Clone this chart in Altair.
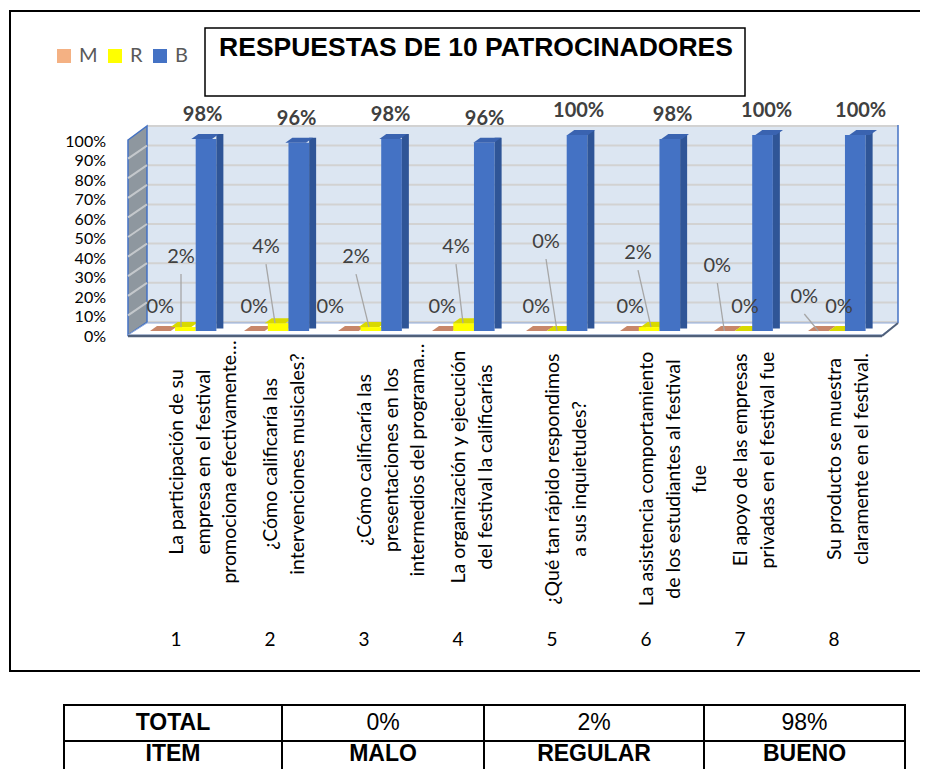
import altair as alt
import pandas as pd

# ---------------- data ----------------
CATS = [1, 2, 3, 4, 5, 6, 7, 8]
CAT_LABELS = [
    ["La participación de su", "empresa en el festival", "promociona efectivamente…"],
    ["¿Cómo calificaría las", "intervenciones musicales?"],
    ["¿Cómo calificaría las", "presentaciones en los", "intermedios del programa…"],
    ["La organización y ejecución", "del festival la calificarías"],
    ["¿Qué tan rápido respondimos", "a sus inquietudes?"],
    ["La asistencia comportamiento", "de los estudiantes al festival", "fue"],
    ["El apoyo de las empresas", "privadas en el festival fue"],
    ["Su producto se muestra", "claramente en el festival."],
]
SERIES = ["M", "R", "B"]
M_VALS = [0.00, 0.00, 0.00, 0.00, 0.00, 0.00, 0.00, 0.00]
R_VALS = [0.02, 0.04, 0.02, 0.04, 0.00, 0.02, 0.00, 0.00]
B_VALS = [0.98, 0.96, 0.98, 0.96, 1.00, 0.98, 1.00, 1.00]
Y_TICKS = [0.0, 0.1, 0.2, 0.3, 0.4, 0.5, 0.6, 0.7, 0.8, 0.9, 1.0]
TITLE = "RESPUESTAS DE 10 PATROCINADORES"
TABLE_ROW1 = ["TOTAL", "0%", "2%", "98%"]
TABLE_ROW2 = ["ITEM", "MALO", "REGULAR", "BUENO"]

# ---------------- layout (page pixels) ----------------
O = 8
def P(v):
    return v - O

W, H = 912, 761
STEP = 94.0
SUB = 62.0 / 3.0
DX3, DY3 = 7.0, 5.0
XS = alt.Scale(domain=[0.5, 8.5], range=[P(134), P(134) + 8 * STEP], nice=False, zero=False)
YB = alt.Scale(domain=[0, 1], range=[P(331), P(135)], nice=False, zero=False)
YBACK = alt.Scale(domain=[0, 1], range=[P(322), P(126)], nice=False, zero=False)
YAX = alt.Scale(domain=[0, 1], range=[P(337), P(141.5)], nice=False, zero=False)

SHIFT = {"M": -SUB, "R": 0.0, "B": SUB}
FRONT = {"M": "#F4B183", "R": "#FFFF00", "B": "#4472C4"}
SIDE = {"M": "#C38E69", "R": "#CCCC00", "B": "#2F5597"}
TOPC = {"M": "#C8876A", "R": "#D9D900", "B": "#3A63B0"}

M_LAB_DX = [0, 0, -18, 0, 0, 0, -7, -14]
M_LAB_DY = [-24, -24, -24, -24, -24, -24, -65, -34]
R_LAB_DX = [0, -9, -13, -7, -11, -13, 0, 0]
R_LAB_DY = [-70, -76, -70, -76, -89, -74, -24, -24]
R_LEADER = [True, True, True, True, True, True, False, False]
M_LEADER = [False, False, False, False, False, False, True, True]
LABEL_MID_Y = [462, 464, 460, 467, 479, 479, 460, 459]
TABLE_EDGES = [64, 282, 484, 704, 905]
TABLE_ROWS = [705, 741, 790]
TABLE_TEXT_Y = [723, 754]

LBL_FONT = "Lato"
dummy = pd.DataFrame({"k": [0]})


def base():
    return alt.Chart(dummy)


def poly_path(points, cx, cy, half):
    parts = []
    for i, (px_, py_) in enumerate(points):
        parts.append(("M" if i == 0 else "L") + f" {(px_ - cx) / half:.4f} {(py_ - cy) / half:.4f}")
    return " ".join(parts) + " Z"


layers = []

# outer frame
layers.append(base().mark_rect(fill="white", stroke="black", strokeWidth=2).encode(
    x=alt.value(P(10)), x2=alt.value(P(960)), y=alt.value(P(11)), y2=alt.value(P(671))))

# title box + title
layers.append(base().mark_rect(fill="white", stroke="black", strokeWidth=1.5).encode(
    x=alt.value(P(205)), x2=alt.value(P(745)), y=alt.value(P(28)), y2=alt.value(P(96))))
layers.append(alt.Chart(pd.DataFrame({"t": [TITLE]})).mark_text(
    font="Liberation Sans", fontWeight="bold", fontSize=26.5, color="black",
    align="center", baseline="middle").encode(
    text="t:N", x=alt.value(P(476)), y=alt.value(P(48))))

# back wall
layers.append(base().mark_rect(fill="#DCE6F2").encode(
    x=alt.value(P(147)), x2=alt.value(P(898)), y=alt.value(P(126)), y2=alt.value(P(322))))
grid = pd.DataFrame({"v": Y_TICKS})
layers.append(alt.Chart(grid).mark_rule(color="#D2D2D2", strokeWidth=2).encode(
    x=alt.value(P(147)), x2=alt.value(P(898)), y=alt.Y("v:Q", scale=YBACK, axis=None)))
layers.append(base().mark_rule(color="#4472C4", strokeWidth=1.5).encode(
    x=alt.value(P(898)), y=alt.value(P(125)), y2=alt.value(P(323))))

# side wall
sw_pts = [(128, 140), (147, 126), (147, 322), (128, 335)]
layers.append(base().mark_point(shape=poly_path(sw_pts, 137.5, 230.5, 105), size=210 ** 2,
                                filled=True, opacity=1, color="#8E979F",
                                stroke="#4472C4", strokeWidth=1.5).encode(
    x=alt.value(P(137.5)), y=alt.value(P(230.5))))
layers.append(alt.Chart(pd.DataFrame({"v": Y_TICKS[1:-1]})).mark_rule(
    color="#C4C8CC", strokeWidth=2, y2Offset=13).encode(
    x=alt.value(P(147)), x2=alt.value(P(128)),
    y=alt.Y("v:Q", scale=YBACK, axis=None), y2=alt.Y2("v:Q")))

# floor
fl_pts = [(128, 335), (147, 323), (898, 323), (882, 335)]
layers.append(base().mark_point(shape=poly_path(fl_pts, 513, 329, 385), size=770 ** 2,
                                filled=True, opacity=1, color="white",
                                stroke="#8EA9DB", strokeWidth=1).encode(
    x=alt.value(P(513)), y=alt.value(P(329))))
layers.append(base().mark_rule(color="#50607A", strokeWidth=2.5).encode(
    x=alt.value(P(128)), x2=alt.value(P(882)), y=alt.value(P(336))))
layers.append(base().mark_rule(color="#50607A", strokeWidth=2).encode(
    x=alt.value(P(882)), x2=alt.value(P(898)), y=alt.value(P(336)), y2=alt.value(P(323))))

# bars (3D look: front, side, top)
CS = alt.Scale(domain=SERIES, range=[FRONT[s] for s in SERIES])
LEG = alt.Legend(orient="none", legendX=P(54), legendY=P(46), direction="horizontal",
                 title=None, symbolType="square", symbolSize=196, symbolStrokeWidth=0,
                 symbolOpacity=1, labelFont=LBL_FONT, labelFontSize=20, labelColor="#595959",
                 labelOffset=5, columnPadding=7, padding=0)
S = SUB + DX3
half = S / 2
top_pts = [(-SUB / 2 - DX3 / 2, DY3 / 2), (SUB / 2 - DX3 / 2, DY3 / 2),
           (SUB / 2 + DX3 / 2, -DY3 / 2), (-SUB / 2 + DX3 / 2, -DY3 / 2)]
TOP_SHAPE = poly_path(top_pts, 0, 0, half)

for s, vals in zip(SERIES, [M_VALS, R_VALS, B_VALS]):
    df = pd.DataFrame({"cat": CATS, "value": vals, "serie": s})
    X = alt.X("cat:Q", scale=XS, axis=None)
    Y = alt.Y("value:Q", scale=YB, axis=None)
    layers.append(alt.Chart(df).mark_bar(width=SUB, xOffset=SHIFT[s]).encode(
        x=X, y=Y, y2=alt.datum(0),
        color=alt.Color("serie:N", scale=CS, legend=LEG)))
    layers.append(alt.Chart(df).mark_bar(width=DX3, xOffset=SHIFT[s] + SUB / 2 + DX3 / 2,
                                         yOffset=-DY3, y2Offset=-2.5, color=SIDE[s]).encode(
        x=X, y=Y, y2=alt.datum(0)))
    layers.append(alt.Chart(df).mark_point(shape=TOP_SHAPE, size=S * S, filled=True, opacity=1,
                                           color=TOPC[s], strokeWidth=0,
                                           xOffset=SHIFT[s] + DX3 / 2, yOffset=-DY3 / 2).encode(
        x=X, y=Y))

# value labels
lab_font = dict(font=LBL_FONT, fontSize=20, color="#404040", align="center", baseline="middle")
dfB = pd.DataFrame({"cat": CATS, "value": B_VALS, "lab": [f"{round(v * 100)}%" for v in B_VALS]})
layers.append(alt.Chart(dfB).mark_text(fontWeight="bold", xOffset=SUB + 1, yOffset=-24,
                                       **lab_font).encode(
    x=alt.X("cat:Q", scale=XS, axis=None), y=alt.Y("value:Q", scale=YB, axis=None), text="lab:N"))

for s, vals, ddx, ddy, lead in [("M", M_VALS, M_LAB_DX, M_LAB_DY, M_LEADER),
                                 ("R", R_VALS, R_LAB_DX, R_LAB_DY, R_LEADER)]:
    for i, c in enumerate(CATS):
        d = pd.DataFrame({"cat": [c], "value": [vals[i]], "lab": [f"{round(vals[i] * 100)}%"]})
        X = alt.X("cat:Q", scale=XS, axis=None)
        Y = alt.Y("value:Q", scale=YB, axis=None)
        if lead[i]:
            layers.append(alt.Chart(d).mark_rule(
                color="#A6A6A6", strokeWidth=1.3,
                xOffset=SHIFT[s] + ddx[i], yOffset=ddy[i] + 17,
                x2Offset=SHIFT[s], y2Offset=0).encode(
                x=X, x2=alt.X2("cat:Q"), y=Y, y2=alt.Y2("value:Q")))
        layers.append(alt.Chart(d).mark_text(xOffset=SHIFT[s] + ddx[i], yOffset=ddy[i],
                                             **lab_font).encode(x=X, y=Y, text="lab:N"))

# y axis labels
dfY = pd.DataFrame({"v": Y_TICKS, "lab": [f"{round(v * 100)}%" for v in Y_TICKS]})
layers.append(alt.Chart(dfY).mark_text(font=LBL_FONT, fontSize=16, color="black",
                                       align="right", baseline="middle").encode(
    x=alt.value(P(106)), y=alt.Y("v:Q", scale=YAX, axis=None), text="lab:N"))

# category numbers
dfC = pd.DataFrame({"cat": CATS, "lab": [str(c) for c in CATS]})
layers.append(alt.Chart(dfC).mark_text(font=LBL_FONT, fontSize=19, color="black",
                                       align="center", baseline="middle", xOffset=-5).encode(
    x=alt.X("cat:Q", scale=XS, axis=None), y=alt.value(P(640)), text="lab:N"))

# rotated category labels
for i, c in enumerate(CATS):
    d = pd.DataFrame({"cat": [c], "lab": ["\n".join(CAT_LABELS[i])]})
    layers.append(alt.Chart(d).mark_text(font=LBL_FONT, fontSize=19.5, color="black", angle=270,
                                         align="center", baseline="middle", lineBreak="\n",
                                         lineHeight=26.5, xOffset=-4).encode(
        x=alt.X("cat:Q", scale=XS, axis=None), y=alt.value(P(LABEL_MID_Y[i])), text="lab:N"))

# bottom table
layers.append(base().mark_rect(fill="white", stroke="black", strokeWidth=2).encode(
    x=alt.value(P(TABLE_EDGES[0])), x2=alt.value(P(TABLE_EDGES[-1])),
    y=alt.value(P(TABLE_ROWS[0])), y2=alt.value(P(TABLE_ROWS[2]))))
layers.append(base().mark_rule(color="black", strokeWidth=2).encode(
    x=alt.value(P(TABLE_EDGES[0])), x2=alt.value(P(TABLE_EDGES[-1])), y=alt.value(P(TABLE_ROWS[1]))))
for e in TABLE_EDGES[1:-1]:
    layers.append(base().mark_rule(color="black", strokeWidth=2).encode(
        x=alt.value(P(e)), y=alt.value(P(TABLE_ROWS[0])), y2=alt.value(P(TABLE_ROWS[2]))))
for r, row in enumerate([TABLE_ROW1, TABLE_ROW2]):
    yc = TABLE_TEXT_Y[r]
    for j, txt in enumerate(row):
        bold = (r == 1) or (j == 0)
        xc = (TABLE_EDGES[j] + TABLE_EDGES[j + 1]) / 2
        layers.append(alt.Chart(pd.DataFrame({"t": [txt]})).mark_text(
            font="Liberation Sans", fontSize=23, fontWeight="bold" if bold else "normal",
            color="black", align="center", baseline="middle").encode(
            text="t:N", x=alt.value(P(xc)), y=alt.value(P(yc))))

chart = alt.layer(*layers).properties(
    width=W, height=H, padding=0, autosize=alt.AutoSizeParams(type="none")
).resolve_scale(x="independent", y="independent").configure_view(strokeWidth=0)

chart.save("out.html", embed_options={"renderer": "svg", "actions": False})
